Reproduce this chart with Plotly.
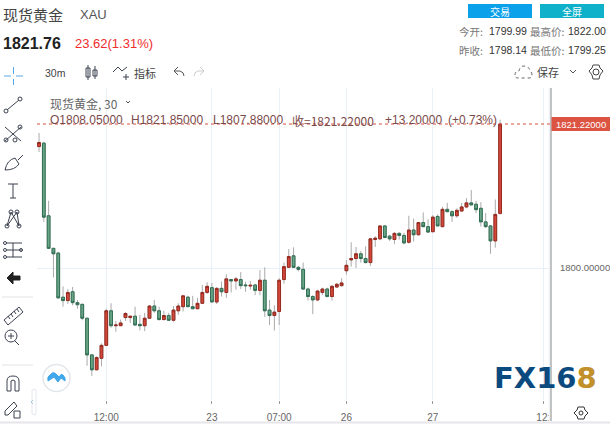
import plotly.graph_objects as go

opens = [1817.9,1818.4,1807.7,1802.9,1802.2,1795.7,1795.2,1796.5,1794.9,1794.65,1792.6,1787.2,1785.0,1786.7,1788.6,1793.7,1791.5,1791.5,1792.7,1792.7,
1792.9,1791.7,1791.5,1792.6,1794.4,1793.7,1792.4,1793.0,1792.3,1793.7,1794.3,1795.7,1794.3,1794.0,1794.8,1796.4,1797.1,1795.0,1797.0,1796.4,
1798.3,1798.1,1798.3,1797.5,1797.35,1797.5,1796.7,1798.2,1793.8,1793.0,1793.6,1798.3,1800.1,1801.8,1800.1,1799.8,1796.9,1795.8,1795.3,1796.4,
1796.9,1795.8,1797.2,1797.4,1799.6,1801.2,1801.4,1802.1,1801.4,1800.8,1804.2,1804.3,1806.2,1804.7,1804.2,1805.1,1804.8,1803.8,1805.6,1804.9,
1806.7,1806.1,1805.35,1807.6,1806.1,1808.65,1808.3,1807.7,1808.4,1809.0,1809.6,1809.4,1808.8,1806.8,1806.2,1804.0,1808.05]
highs = [1819.9,1818.6,1809.9,1802.9,1802.4,1797.3,1796.9,1797.2,1795.3,1794.7,1792.6,1787.3,1787.0,1788.9,1794.0,1794.8,1792.2,1792.4,1793.5,1792.9,
1794.3,1793.1,1793.4,1794.5,1795.3,1794.3,1793.7,1793.4,1794.4,1794.8,1796.0,1795.9,1795.9,1795.6,1797.5,1797.9,1797.8,1797.2,1798.0,1799.1,
1798.4,1798.7,1799.4,1798.0,1798.1,1797.6,1799.7,1800.1,1795.3,1794.5,1798.5,1800.8,1802.8,1803.05,1800.3,1800.8,1797.1,1796.0,1796.8,1797.1,
1797.1,1797.5,1797.8,1798.5,1801.2,1803.8,1803.1,1802.5,1803.2,1804.4,1804.7,1806.2,1806.3,1804.9,1805.3,1805.3,1805.2,1807.7,1807.3,1806.8,
1808.2,1807.2,1807.8,1807.9,1809.0,1809.6,1808.5,1808.8,1809.6,1810.3,1811.5,1809.9,1809.7,1808.1,1806.3,1810.1,1821.85]
lows = [1817.1,1806.8,1802.8,1798.6,1795.6,1794.3,1794.7,1794.5,1794.0,1792.3,1785.6,1784.1,1785.0,1785.5,1788.6,1791.2,1790.6,1791.5,1792.2,1791.9,
1791.6,1790.8,1790.7,1792.5,1793.4,1792.3,1792.3,1792.2,1792.1,1793.1,1793.6,1794.3,1794.0,1794.0,1794.7,1796.2,1795.0,1794.7,1795.8,1795.6,
1796.4,1796.8,1796.9,1796.5,1796.8,1796.0,1796.0,1792.8,1791.6,1790.8,1791.6,1797.7,1800.0,1800.0,1799.5,1796.8,1795.2,1793.2,1795.1,1796.0,
1795.7,1795.2,1797.1,1797.3,1799.0,1800.2,1800.0,1800.8,1800.7,1800.3,1803.1,1804.1,1804.4,1804.0,1803.5,1804.2,1803.5,1803.6,1803.9,1804.9,
1806.0,1805.2,1805.3,1806.2,1806.0,1808.25,1806.8,1807.4,1808.25,1808.8,1809.3,1808.1,1806.1,1805.9,1802.1,1803.0,1807.88]
closes = [1818.5,1807.5,1802.9,1802.1,1795.6,1795.2,1796.4,1794.9,1794.6,1792.6,1787.2,1785.0,1786.8,1788.6,1793.7,1791.5,1791.6,1791.9,1793.3,1792.9,
1791.6,1791.5,1792.6,1794.4,1793.7,1792.4,1793.0,1792.3,1793.8,1794.4,1795.9,1794.3,1794.0,1794.8,1796.4,1797.3,1795.0,1797.0,1796.5,1798.4,
1798.1,1798.4,1797.4,1797.4,1797.45,1796.7,1798.2,1793.7,1793.0,1793.5,1798.2,1800.2,1801.7,1800.1,1799.8,1796.9,1795.8,1795.3,1796.6,1796.9,
1795.8,1797.3,1797.6,1797.8,1800.4,1801.4,1802.1,1801.4,1800.8,1804.3,1804.4,1806.2,1804.5,1804.3,1805.1,1804.8,1803.7,1805.6,1804.9,1806.7,
1806.1,1805.3,1807.5,1806.2,1808.65,1808.3,1807.7,1808.5,1809.0,1809.6,1809.3,1808.6,1806.8,1806.1,1804.0,1807.9,1821.22]

candle_index = list(range(len(opens)))
time_tick_positions = [14, 36, 50, 64, 82, 105]
time_tick_labels = ["12:00", "23", "07:00", "26", "27", "12:"]
price_ticks = [1800]
price_tick_labels = ["1800.00000"]
last_price = 1821.22

W, H = 610, 424
LEFT, RIGHT, TOP, BOTTOM = 37, 551, 88, 400
CJK = "Noto Sans CJK SC, Liberation Sans, sans-serif"
NUM = "Liberation Sans, Noto Sans CJK SC, sans-serif"
ICON = "#3c4250"

body_top = [max(a, b) for a, b in zip(opens, closes)]
body_bot = [min(a, b) for a, b in zip(opens, closes)]

fig = go.Figure()
fig.add_trace(go.Candlestick(
    x=candle_index, open=opens, high=highs, low=lows, close=closes, whiskerwidth=0,
    increasing=dict(line=dict(color="#a9aaa9", width=1), fillcolor="rgba(0,0,0,0)"),
    decreasing=dict(line=dict(color="#a9aaa9", width=1), fillcolor="rgba(0,0,0,0)"),
    showlegend=False, hoverinfo="skip"))
fig.add_trace(go.Candlestick(
    x=candle_index, open=opens, high=body_top, low=body_bot, close=closes, whiskerwidth=0,
    increasing=dict(line=dict(color="#96291f", width=1), fillcolor="#d4483a"),
    decreasing=dict(line=dict(color="#2f6e52", width=1), fillcolor="#6aa587"),
    showlegend=False, hoverinfo="skip"))
fig.add_trace(go.Scatter(x=[0, W], y=[0, H], xaxis="x2", yaxis="y2", mode="none",
                         showlegend=False, hoverinfo="skip"))

shapes, notes = [], []

def line(x0, y0, x1, y1, color=ICON, width=1, dash=None):
    shapes.append(dict(type="line", xref="x2", yref="y2", x0=x0, y0=y0, x1=x1, y1=y1,
                       line=dict(color=color, width=width, dash=dash), layer="above"))

def rect(x0, y0, x1, y1, fill, color=None, width=0):
    shapes.append(dict(type="rect", xref="x2", yref="y2", x0=x0, y0=y0, x1=x1, y1=y1,
                       fillcolor=fill, line=dict(color=color or fill, width=width), layer="above"))

def circ(cx, cy, r, color=ICON, fill="rgba(0,0,0,0)", width=1):
    shapes.append(dict(type="circle", xref="x2", yref="y2", x0=cx - r, y0=cy - r, x1=cx + r, y1=cy + r,
                       fillcolor=fill, line=dict(color=color, width=width), layer="above"))

def path(d, color=ICON, width=1, fill="rgba(0,0,0,0)"):
    shapes.append(dict(type="path", xref="x2", yref="y2", path=d, fillcolor=fill,
                       line=dict(color=color, width=width), layer="above"))

def text(x, y, s, size=11, color="#333", anchor="left", font=CJK):
    notes.append(dict(xref="x2", yref="y2", x=x, y=y, text=s, showarrow=False, xanchor=anchor,
                      yanchor="middle", font=dict(size=size, color=color, family=font),
                      borderpad=0, borderwidth=0))

# header
text(3, 14, "现货黄金", 15, "#444")
text(80, 14, "XAU", 13, "#555", font=NUM)
text(3, 43, "<b>1821.76</b>", 16, "#222", font=NUM)
text(75, 43, "23.62(1.31%)", 13, "#f02c2c", font=NUM)
rect(468, 4, 532, 18, "#0aa0ea")
rect(540, 4, 604, 18, "#0eb1c9")
text(500, 11, "交易", 10, "#fff", "center")
text(572, 11, "全屏", 10, "#fff", "center")
text(459, 31, "今开:", 10.5, "#777")
text(489, 31, "1799.99", 10.5, "#333", font=NUM)
text(530, 31, "最高价:", 10.5, "#777")
text(568, 31, "1822.00", 10.5, "#333", font=NUM)
text(459, 50, "昨收:", 10.5, "#777")
text(489, 50, "1798.14", 10.5, "#333", font=NUM)
text(530, 50, "最低价:", 10.5, "#777")
text(568, 50, "1799.25", 10.5, "#333", font=NUM)

# top toolbar
line(4, 76, 11, 76, "#5aa9e6"); line(16, 76, 23, 76, "#5aa9e6")
line(13.5, 67, 13.5, 74, "#5aa9e6"); line(13.5, 79, 13.5, 85, "#5aa9e6")
text(45, 73, "30m", 10.5, "#444", font=NUM)
rect(86, 68, 90, 77, "#fff", ICON, 1); line(88, 65, 88, 80)
rect(93, 70, 97, 76, "#fff", ICON, 1); line(95, 66, 95, 79)
path("M113,72 L118,67 L122,71 L127,67")
line(123, 77, 129, 77); line(126, 74, 126, 80)
text(134, 73, "指标", 11, "#444")
path("M174,71 L178,67 M174,71 L178,75 M174,71 L180,71 Q184,72 184,76", "#555")
path("M204,71 L200,67 M204,71 L200,75 M204,71 L198,71 Q194,72 194,76", "#ccc")
path("M515,75 Q515,71 519,71 Q520,66 524,66 Q529,66 530,71 Q532,72 532,75 Q532,78 529,78 L518,78 Q515,78 515,75 Z", "#666", 1)
shapes[-1]["line"]["dash"] = "dot"
text(537, 72, "保存", 11, "#444")
path("M570,70 L573,73 L576,70", "#555")
path("M593,65 L599,65 L600,68 L603,71 L600,75 L599,79 L593,79 L592,75 L589,71 L592,68 Z", "#444")
circ(596, 72, 3, "#444")

# left toolbar
circ(6, 111, 2); circ(20, 99, 2); line(7, 110, 19, 100)
line(5, 141, 21, 127); line(5, 127, 21, 141); circ(6, 140, 2); circ(15, 140, 2); circ(20, 127, 2)
path("M5,170 Q7,160 15,158 L19,164 Q15,170 5,170 Z"); line(18, 160, 23, 155)
line(8, 184, 18, 184); line(13, 184, 13, 198); line(10, 198, 16, 198)
path("M7,226 L11,212 L19,226 L17,212 L7,226"); circ(7, 226, 2); circ(11, 212, 2); circ(19, 226, 2); circ(17, 212, 2)
line(6, 243, 22, 243); line(6, 250, 22, 250); line(6, 257, 22, 257); line(13, 243, 13, 257)
circ(5, 243, 1.5); circ(5, 250, 1.5); circ(5, 257, 1.5); circ(21, 250, 1.5)
path("M7,278 L13,272 L13,276 L20,276 L20,280 L13,280 L13,284 Z", "#222", 1, "#222")
line(2, 297, 33, 297, "#e3e3e3")
path("M4,320 L19,307 L23,312 L8,325 Z")
line(8, 316, 10, 319); line(11, 314, 13, 317); line(14, 311, 16, 314); line(17, 309, 19, 312)
circ(11, 336, 6); line(8, 336, 14, 336); line(11, 333, 11, 339); line(15, 341, 19, 345)
line(2, 365, 33, 365, "#e3e3e3")
path("M7,391 L7,381 Q7,376 13,376 Q19,376 19,381 L19,391 L15,391 L15,381 Q13,379 11,381 L11,391 Z")
path("M5,411 L14,402 L17,406 L8,415 L5,415 Z"); rect(14, 411, 20, 418, "#fff", ICON, 1)
path("M32,390 L35,389 L36,390 L36,414 L35,415 L32,414 Z", "#e4e8ee", 1, "#fff")
path("M33,400 L31,402 L33,404", "#a8c6d8")

# chart overlay
line(549.5, TOP, 549.5, 421, "#eef2f7", 1.5)
line(RIGHT, TOP, RIGHT, 421, "#9a9a9a", 1.2)
line(0, 422.5, W, 422.5, "#e6e6ea", 2)
shapes.append(dict(type="line", xref="x2", yref="y", x0=LEFT, x1=RIGHT, y0=last_price, y1=last_price,
                   line=dict(color="#d9503f", width=1, dash="dot"), layer="above"))
shapes.append(dict(type="rect", xref="x2", yref="y", x0=RIGHT + .5, x1=W, y0=last_price - 1.03,
                   y1=last_price + 1.03, fillcolor="#dc5442", line=dict(width=0), layer="above"))
notes.append(dict(xref="x2", yref="y", x=581, y=last_price, text="1821.22000", showarrow=False,
                  font=dict(size=9.5, color="#fff", family=NUM)))
text(50, 103, "现货黄金, 30", 12, "#666")
path("M126,101 L128,103 L130,101", "#555")
text(50, 120, "O1808.05000", 12, "#7a4a4a", font=NUM)
text(131, 120, "H1821.85000", 12, "#7a4a4a", font=NUM)
text(213, 120, "L1807.88000", 12, "#7a4a4a", font=NUM)
text(292, 120, "收=1821.22000", 12, "#7a4a4a")
text(385, 120, "+13.20000", 12, "#7a4a4a", font=NUM)
text(448, 120, "(+0.73%)", 12, "#7a4a4a", font=NUM)

# logos
circ(56.5, 378, 13.5, "#e3e6ea", "#fff", 1.5)
path("M48,381 Q47,376 50,375 Q53,371 56,374 L59,377 Q61,373 63,375 Q66,378 65,381 L61,378 L58,382 L54,377 Z",
     "#3fa7ea", 1, "#3fa7ea")
text(494, 378, "<b>FX16<span style='color:#c2912b'>8</span></b>", 29, "#0b4a7e", font="DejaVu Sans")
path("M578,407 L584,407 L585,410 L588,413 L585,416 L584,419 L578,419 L577,416 L574,413 L577,410 Z", "#333")
circ(581, 413, 2, "#333")

fig.update_layout(
    width=W, height=H, margin=dict(l=0, r=0, t=0, b=0, autoexpand=False),
    paper_bgcolor="#fff", plot_bgcolor="rgba(0,0,0,0)", boxgap=0.18, dragmode=False, showlegend=False,
    shapes=shapes, annotations=notes,
    xaxis=dict(domain=[LEFT / W, RIGHT / W], range=[-0.42, 106.6], tickmode="array",
               tickvals=time_tick_positions, ticktext=time_tick_labels, showgrid=True,
               gridcolor="#eaf0f7", gridwidth=1, ticks="outside", ticklen=3, tickcolor="#999",
               tickfont=dict(size=10, color="#666", family=NUM), rangeslider=dict(visible=False),
               showline=False, zeroline=False, anchor="y", ticklabelstandoff=5),
    yaxis=dict(domain=[1 - BOTTOM / H, 1 - TOP / H], range=[1780.55, 1826.53], side="right",
               tickmode="array", tickvals=price_ticks, ticktext=price_tick_labels, showgrid=True,
               gridcolor="#eaf0f7", gridwidth=1, ticks="", showline=False, zeroline=False,
               tickfont=dict(size=9.5, color="#666", family=NUM), anchor="x", ticklabelstandoff=8),
    xaxis2=dict(domain=[0, 1], range=[0, W], visible=False, anchor="y2", fixedrange=True),
    yaxis2=dict(domain=[0, 1], range=[H, 0], visible=False, anchor="x2", fixedrange=True),
)
fig.write_html("out.html", config=dict(displayModeBar=False),
               post_script="document.body.style.margin='0';document.documentElement.style.overflow='hidden';")
